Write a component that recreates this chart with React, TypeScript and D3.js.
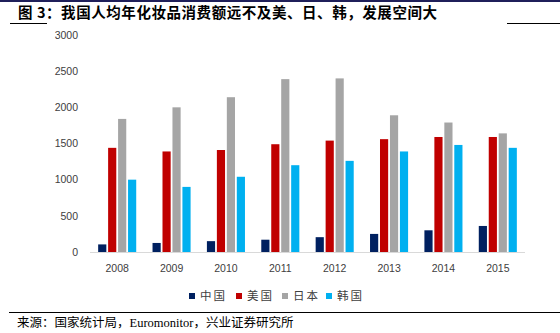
import React from "react";
import * as d3 from "d3";

const years = ["2008", "2009", "2010", "2011", "2012", "2013", "2014", "2015"];
const seriesNames = ["中国", "美国", "日本", "韩国"];
const china = [105, 125, 150, 170, 205, 250, 300, 360];
const usa = [1440, 1390, 1410, 1490, 1540, 1560, 1590, 1590];
const japan = [1840, 2000, 2140, 2390, 2400, 1890, 1790, 1640];
const korea = [1000, 900, 1040, 1200, 1260, 1390, 1480, 1440];
const yTicks = [0, 500, 1000, 1500, 2000, 2500, 3000];
const colors = ["#002060", "#C00000", "#A5A5A5", "#00B0F0"];

const W = 560, H = 333;
const left = 90, right = 525, top = 35, bottom = 252;

export default function App() {
  const data = [china, usa, japan, korea];
  const x = d3.scaleBand().domain(years).range([left, right]).paddingInner(0.3).paddingOuter(0.15);
  const x1 = d3.scaleBand().domain(seriesNames).range([0, x.bandwidth()]).paddingInner(0.18);
  const y = d3.scaleLinear().domain([0, 3000]).range([bottom, top]);
  const legendX = [189, 236, 282, 326];
  return (
    <svg width={W} height={H} style={{ position: "absolute", left: 0, top: 0, background: "#fff" }}>
      <rect x={0} y={0} width={W} height={2} fill="#1F1F5A" />
      <line x1={10} x2={47} y1={23.5} y2={23.5} stroke="#000" strokeWidth={1} />
      <line x1={507} x2={560} y1={23.5} y2={23.5} stroke="#000" strokeWidth={1} />
      <text x={18} y={18} fontFamily="'Noto Sans CJK SC', sans-serif" fontWeight="bold" fontSize={14.5} fill="#000" textLength={419} lengthAdjust="spacing">
        图 3：我国人均年化妆品消费额远不及美、日、韩，发展空间大
      </text>
      {yTicks.map((t) => (
        <text key={t} x={78} y={y(t)} dy="0.35em" textAnchor="end" fontFamily="'Liberation Sans', Arial, sans-serif" fontSize={10.5} fill="#404040">
          {t}
        </text>
      ))}
      {years.map((yr, i) => (
        <g key={yr} transform={`translate(${x(yr)},0)`}>
          {seriesNames.map((s, j) => (
            <rect key={s} x={x1(s)} y={y(data[j][i])} width={x1.bandwidth()} height={bottom - y(data[j][i])} fill={colors[j]} />
          ))}
        </g>
      ))}
      <line x1={left} x2={right} y1={bottom + 0.5} y2={bottom + 0.5} stroke="#D9D9D9" strokeWidth={1} />
      {years.map((yr) => (
        <text key={yr} x={(x(yr) as number) + x.bandwidth() / 2} y={268} dy="0.35em" textAnchor="middle" fontFamily="'Liberation Sans', Arial, sans-serif" fontSize={10.5} fill="#404040">
          {yr}
        </text>
      ))}
      {seriesNames.map((s, j) => (
        <g key={s}>
          <rect x={legendX[j]} y={293} width={6} height={6} fill={colors[j]} />
          <text x={legendX[j] + 11} y={296} dy="0.35em" fontFamily="'Noto Sans CJK SC', sans-serif" fontSize={11.5} fill="#404040" letterSpacing={2}>
            {s}
          </text>
        </g>
      ))}
      <line x1={9} x2={560} y1={312.5} y2={312.5} stroke="#000" strokeWidth={1} />
      <text x={17} y={323} dy="0.35em" fontFamily="'Liberation Serif', 'Noto Sans CJK SC', serif" fontSize={12.5} fill="#000">
        来源：国家统计局，Euromonitor，兴业证券研究所
      </text>
    </svg>
  );
}
